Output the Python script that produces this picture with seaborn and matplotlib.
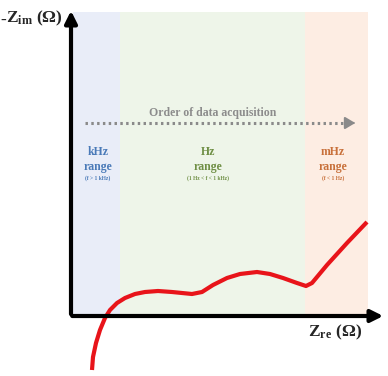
import matplotlib
matplotlib.use("Agg")
import matplotlib.pyplot as plt
import seaborn as sns
import pandas as pd

sns.set_theme(style="white")
plt.rcParams['font.family'] = ['Liberation Serif', 'DejaVu Serif']
plt.rcParams['mathtext.fontset'] = 'custom'
plt.rcParams['mathtext.rm'] = 'Liberation Serif'
plt.rcParams['mathtext.bf'] = 'Liberation Serif:bold'
plt.rcParams['mathtext.it'] = 'Liberation Serif:italic:bold'

# Nyquist-style schematic curve (arbitrary units)
z_re = [21, 22, 25, 29, 34, 39, 46, 54, 64, 74, 87, 101, 111, 121, 131, 142,
        156, 169, 186, 199, 212, 226, 235, 241, 256, 276, 296]
z_im = [-54, -41, -27, -14, -2, 6, 13, 18, 22, 24, 25, 24, 23, 22, 24, 31,
        38, 42, 44, 42, 38, 33, 30, 33, 51, 73, 94]

# frequency regions
region_names = ["kHz", "Hz", "mHz"]
region_start = [2, 49, 234]
region_end = [49, 234, 297]
region_fill = ["#e9edf8", "#eef5e9", "#fdede3"]
region_text = ["#4a7ab8", "#6f8f45", "#c8703a"]
region_sub = ["(f > 1 kHz)", "(1 Hz < f < 1 kHz)", "(f < 1 Hz)"]
region_center = [27, 137, 262]

fig = plt.figure(figsize=(3.88, 3.76), dpi=100)
ax = fig.add_axes([71/388, (376-316)/376, (386-71)/388, (316-8)/376])
ax.set_xlim(0, 315)
ax.set_ylim(0, 308)
for s in ax.spines.values():
    s.set_visible(False)
ax.set_xticks([])
ax.set_yticks([])
ax.patch.set_alpha(0)

for x0, x1, c in zip(region_start, region_end, region_fill):
    ax.axvspan(x0, x1, ymin=0, ymax=304/308, color=c, lw=0, zorder=0)

for name, xc, tc, sub in zip(region_names, region_center, region_text, region_sub):
    ax.text(xc, 164, name, color=tc, fontsize=8.5, fontweight='bold', ha='center', va='center')
    ax.text(xc, 149, "range", color=tc, fontsize=8.5, fontweight='bold', ha='center', va='center')
    ax.text(xc, 138, sub, color=tc, fontsize=4, fontweight='bold', ha='center', va='center')

ax.text(142, 203, "Order of data acquisition", color="#8c8c8c", fontsize=8.5,
        fontweight='bold', ha='center', va='center')
ax.plot([14, 280], [193, 193], color="#8a8a8a", lw=2.2, ls=(0, (0.8, 1.1)), zorder=2)
ax.annotate("", xy=(287, 193), xytext=(278, 193),
            arrowprops=dict(arrowstyle='-|>,head_length=0.5,head_width=0.3', color="#8a8a8a", lw=1.5))

df = pd.DataFrame({"Zre": z_re, "Zim": z_im})
sns.lineplot(data=df, x="Zre", y="Zim", sort=False, color="#e8141a", lw=3,
             ax=ax, clip_on=False, zorder=3, solid_capstyle='butt', solid_joinstyle='round')
ax.set_xlabel("")
ax.set_ylabel("")

# axes arrows
ax.annotate("", xy=(0, 1.0), xytext=(0, -0.003), xycoords='axes fraction',
            arrowprops=dict(arrowstyle='-|>,head_length=0.6,head_width=0.3', color='black', lw=3),
            annotation_clip=False)
ax.annotate("", xy=(1.0, 0), xytext=(-0.005, 0), xycoords='axes fraction',
            arrowprops=dict(arrowstyle='-|>,head_length=0.6,head_width=0.3', color='black', lw=3),
            annotation_clip=False)

fig.text(3/388, 1-21/376, "-", fontsize=12.5, fontweight='bold', ha='center', va='center')
fig.text(6/388, 1-18/376, r"$\mathbf{Z_{im}\ (\Omega)}$", fontsize=12.5, ha='left', va='center')
fig.text(335/388, 1-332/376, r"$\mathbf{Z_{re}\ (\Omega)}$", fontsize=12.5, ha='center', va='center')

fig.savefig("out.png", dpi=100)
